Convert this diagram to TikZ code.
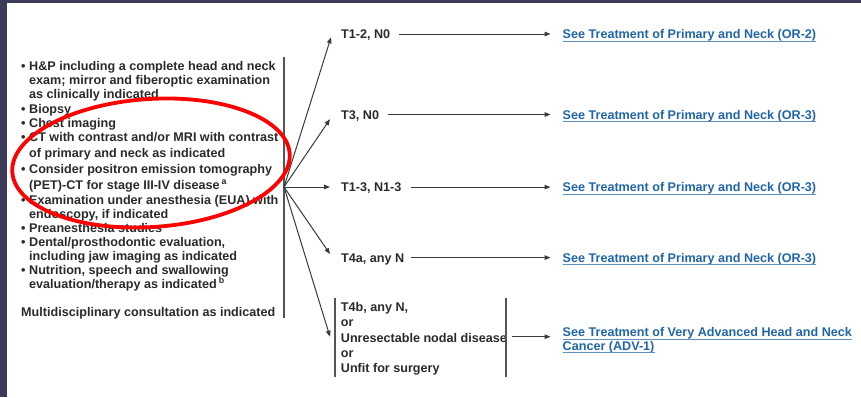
\documentclass[tikz,border=0pt]{standalone}
\usepackage{fontspec}
\setmainfont{Liberation Sans}
\usetikzlibrary{arrows.meta}
\definecolor{framec}{HTML}{3C3C58}
\definecolor{txt}{HTML}{2A2A2A}
\definecolor{lnk}{HTML}{2166A8}
\definecolor{ulc}{HTML}{5B8FC2}
\definecolor{linec}{HTML}{3A3A3A}
\definecolor{barc}{HTML}{555555}
\newcommand{\bul}{\makebox[8.6pt][l]{\hspace{0.6pt}•}}
\begin{document}
\begin{tikzpicture}[x=1pt,y=-1pt,
 every node/.style={inner sep=0pt, font=\fontsize{12.6}{15.25}\selectfont\bfseries, text=txt},
 lt/.style={anchor=base west},
 lk/.style={anchor=base west, text=lnk},
 arr/.style={draw=linec, line width=1pt, -{Triangle[length=6pt,width=4.6pt]}},
 bar/.style={draw=barc, line width=1.3pt},
 uline/.style={draw=ulc, line width=0.9pt},
 ring/.style={draw=red, line width=3.8pt}]
\fill[framec] (0,0) rectangle (861,397);
\fill[white] (7,3.3) rectangle (861,397);
\useasboundingbox (0,0) rectangle (861,397);

% left column
\node[lt] (a1) at (20.4,70.7) {\bul H\&P including a complete head and neck};
\node[lt] (a2) at (29,84.7) {exam; mirror and fiberoptic examination};
\node[lt] (a3) at (29,98.3) {as clinically indicated};
\node[lt] (a4) at (20.4,113) {\bul Biopsy};
\node[lt] (a5) at (20.4,127) {\bul Chest imaging};
\node[lt] (a6) at (20.4,141.7) {\bul CT with contrast and/or MRI with contrast};
\node[lt] (a7) at (29,157) {of primary and neck as indicated};
\node[lt] (a8) at (20.4,173.3) {\bul Consider positron emission tomography};
\node[lt] (a9) at (29,189) {(PET)-CT for stage III-IV disease\,\textsuperscript{a}};
\node[lt] (a10) at (20.4,204.7) {\bul Examination under anesthesia (EUA) with};
\node[lt] (a11) at (29,218) {endoscopy, if indicated};
\node[lt] (a12) at (20.4,232) {\bul Preanesthesia studies};
\node[lt] (a13) at (20.4,246.5) {\bul Dental/prosthodontic evaluation,};
\node[lt] (a14) at (29,260.5) {including jaw imaging as indicated};
\node[lt] (a15) at (20.4,274.3) {\bul Nutrition, speech and swallowing};
\node[lt] (a16) at (29,288) {evaluation/therapy as indicated\,\textsuperscript{b}};
\node[lt] (a17) at (21,316) {Multidisciplinary consultation as indicated};

\coordinate (bt) at (284,57);
\coordinate (bb) at (284,318);
\coordinate (hub) at (284,187);
\draw[bar] (bt) -- (bb);

% stage labels
\node[lt] (t12) at (341,38.7) {T1-2, N0};
\node[lt] (t3) at (341,119.2) {T3, N0};
\node[lt] (t13) at (341,191.8) {T1-3, N1-3};
\node[lt] (t4a) at (341,262.3) {T4a, any N};
\node[anchor=base west] (t4b) at (340.7,311.7) {\begin{tabular}[t]{@{}l@{}}T4b, any N,\\or\\Unresectable nodal disease\\or\\Unfit for surgery\end{tabular}};
\draw[bar] ([shift={(-5.7,-14)}]t4b.base west) -- ([shift={(-5.7,65)}]t4b.base west);
\draw[bar] ([shift={(-1.1,-14)}]t4b.base east) -- ([shift={(-1.1,65)}]t4b.base east);

% links
\node[lk] (l1) at (562.5,38.7) {See Treatment of Primary and Neck (OR-2)};
\node[lk] (l2) at (562.5,119.2) {See Treatment of Primary and Neck (OR-3)};
\node[lk] (l3) at (562.5,191.8) {See Treatment of Primary and Neck (OR-3)};
\node[lk] (l4) at (562.5,262.3) {See Treatment of Primary and Neck (OR-3)};
\node[lk] (l5) at (562.5,336.7) {See Treatment of Very Advanced Head and Neck};
\node[lk] (l6) at (562.5,350.5) {Cancer (ADV-1)};
\foreach \n in {l1,l2,l3,l4,l5,l6}
  \draw[uline] ([shift={(0,2.4)}]\n.base west) -- ([shift={(0,2.4)}]\n.base east);

% fan arrows
\draw[arr] (hub) -- ([shift={(-10,-1.4)}]t12.base west);
\draw[arr] (hub) -- ([shift={(-11,0)}]t3.base west);
\draw[arr] (hub) -- ([shift={(-11,-4.8)}]t13.base west);
\draw[arr] (hub) -- ([shift={(-11,-8.3)}]t4a.base west);
\draw[arr] (hub) -- ([shift={(-10.7,25)}]t4b.base west);

% horizontal arrows
\draw[arr] ([shift={(9,-4.7)}]t12.base east) -- ([shift={(-12,-4.7)}]l1.base west);
\draw[arr] ([shift={(9,-4.7)}]t3.base east) -- ([shift={(-12,-4.7)}]l2.base west);
\draw[arr] ([shift={(9,-4.7)}]t13.base east) -- ([shift={(-12,-4.7)}]l3.base west);
\draw[arr] ([shift={(7,-4.7)}]t4a.base east) -- ([shift={(-12,-4.7)}]l4.base west);
\draw[arr] ([shift={(5,25)}]t4b.base east) -- ([shift={(-12,0)}]l5.base west);

% red highlight
\draw[ring, rotate around={3.8:(151,163)}] (151,163) ellipse [x radius=139pt, y radius=64pt];
\end{tikzpicture}
\end{document}
